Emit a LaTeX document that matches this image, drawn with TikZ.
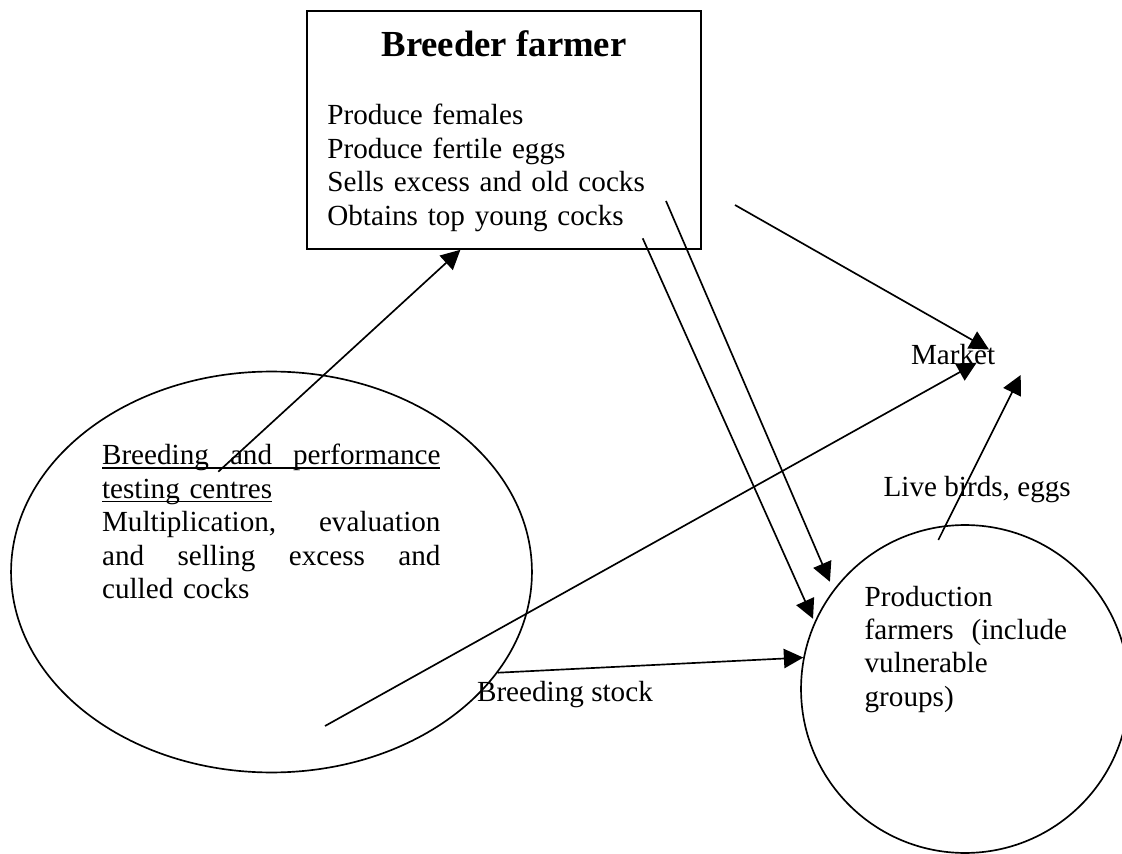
\documentclass[tikz,border=0pt]{standalone}
\usepackage{fontspec}
\setmainfont{Liberation Serif}
\usepackage{tikz}
\usetikzlibrary{arrows.meta}
\usetikzlibrary{shapes.geometric}
\makeatletter
\newcommand\bodyfont{\fontsize{16.6}{19}\selectfont}
\newcommand\titlefont{\fontsize{20.9}{24}\selectfont\bfseries}
\newcommand\ulrule[1]{\leavevmode\setbox\z@\hbox{#1}\rlap{\rule[-2.2pt]{\wd\z@}{.9pt}}\box\z@}
\newcommand\spread[2]{\makebox[#1][l]{#2}}
\makeatother
\tikzstyle{flowhead}=[>/.tip={Triangle[length=11pt,width=11pt]}]
\tikzstyle{flow}=[line width=.95pt,flowhead,->]
\tikzstyle{outline}=[draw,line width=.95pt,inner sep=0pt]
\tikzstyle{txt}=[inner sep=0pt,font=\bodyfont,align=left]

\begin{document}
\begin{tikzpicture}[x=0.02cm,y=-0.02cm]
	\useasboundingbox (0,0) rectangle (1122,854);
	% the three places
	\node[outline,rectangle,minimum width=7.88cm,minimum height=4.76cm] (breeder) at (504,130) {};
	\node[outline,ellipse,minimum width=10.42cm,minimum height=8.02cm] (centres) at (271.5,572) {};
	\node[outline,circle,minimum size=6.56cm] (producers) at (965,689) {};
	% texts
	\node[inner sep=0pt,font=\titlefont,anchor=base] (breeder-title) at (504,57) {Breeder farmer};
	\node[txt,text width=7cm,anchor=base west] (breeder-text) at (327,125)
		{Produce females\\Produce fertile eggs\\Sells excess and old cocks\\Obtains top young cocks};
	\node[txt,text width=6.77cm,anchor=base west] (centres-text) at (101.7,465)
		{\ulrule{\spread{6.77cm}{Breeding\hfill and\hfill performance}}\\
		 \ulrule{testing centres}\\
		 \spread{6.77cm}{Multiplication,\hfill evaluation}\\
		 \spread{6.77cm}{and\hfill selling\hfill excess\hfill and}\\
		 culled cocks};
	\node[txt,text width=4.05cm,anchor=base west] (producers-text) at (864.3,606)
		{Production\\\spread{4.05cm}{farmers\hfill(include}\\vulnerable\\groups)};
	\node[txt,anchor=base west] (market) at (910.7,365) {Market};
	\node[txt,anchor=base west] (live) at (883.3,496.7) {Live birds, eggs};
	\node[txt,anchor=base west] (stock) at (476.7,701.7) {Breeding stock};
	% free ends
	\coordinate (c-up) at (218.3,471.7);
	\coordinate (b-out1) at (666,201);
	\coordinate (b-out2) at (642.7,238.3);
	\coordinate (b-sell) at (735,205);
	\coordinate (c-sell) at (325,726);
	\coordinate (p-sell) at (938.3,540);
	\coordinate (mk-b) at (989,349.5);
	\coordinate (mk-c) at (976.7,362.7);
	\coordinate (mk-p) at (1020.7,375);
	% flows
	\draw[flow] (c-up) -- (breeder.250);
	\draw[flow,shorten >=5pt] (b-out1) -- (producers.143);
	\draw[flow,shorten >=2pt] (b-out2) -- (producers.156);
	\draw[flow] (b-sell) -- (mk-b);
	\draw[flow] (c-sell) -- (mk-c);
	\draw[flow] (p-sell) -- (mk-p);
	\draw[flow] (centres.336) -- (producers.169);
\end{tikzpicture}
\end{document}
